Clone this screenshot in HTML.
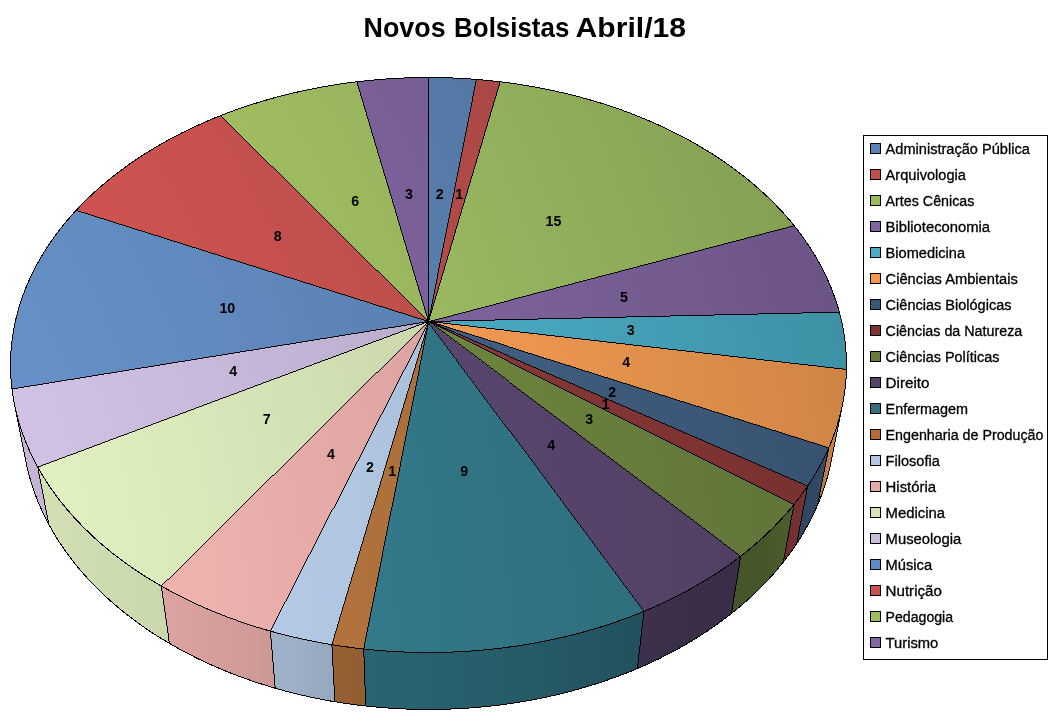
<!DOCTYPE html>
<html lang="pt"><head><meta charset="utf-8"><title>Novos Bolsistas Abril/18</title>
<style>html,body{margin:0;padding:0;background:#fff}body{width:1051px;height:721px;position:relative;overflow:hidden;font-family:"Liberation Sans",sans-serif}</style>
</head><body>
<svg width="1051" height="721" viewBox="0 0 1051 721" style="position:absolute;left:0;top:0">
<defs><radialGradient id="t0" gradientUnits="userSpaceOnUse" cx="-596" cy="644" r="1600"><stop offset="0.375" stop-color="#648EC4"/><stop offset="0.406" stop-color="#638DC2"/><stop offset="0.438" stop-color="#628CC0"/><stop offset="0.469" stop-color="#608ABE"/><stop offset="0.500" stop-color="#5F88BB"/><stop offset="0.531" stop-color="#5E87B9"/><stop offset="0.562" stop-color="#5D85B6"/><stop offset="0.594" stop-color="#5B83B4"/><stop offset="0.625" stop-color="#5A81B1"/><stop offset="0.656" stop-color="#597FAE"/><stop offset="0.688" stop-color="#577DAB"/><stop offset="0.719" stop-color="#567BA9"/><stop offset="0.750" stop-color="#5479A5"/><stop offset="0.781" stop-color="#5376A2"/><stop offset="0.812" stop-color="#51749F"/><stop offset="0.844" stop-color="#4F729C"/><stop offset="0.875" stop-color="#4E6F99"/><stop offset="0.906" stop-color="#4C6D95"/><stop offset="0.938" stop-color="#4A6A92"/><stop offset="0.969" stop-color="#49688F"/><stop offset="1.000" stop-color="#47658B"/></radialGradient><radialGradient id="t1" gradientUnits="userSpaceOnUse" cx="-596" cy="644" r="1600"><stop offset="0.375" stop-color="#CC5653"/><stop offset="0.406" stop-color="#CA5552"/><stop offset="0.438" stop-color="#C85451"/><stop offset="0.469" stop-color="#C55350"/><stop offset="0.500" stop-color="#C3524F"/><stop offset="0.531" stop-color="#C0514E"/><stop offset="0.562" stop-color="#BE504D"/><stop offset="0.594" stop-color="#BB4F4C"/><stop offset="0.625" stop-color="#B84E4B"/><stop offset="0.656" stop-color="#B54D4A"/><stop offset="0.688" stop-color="#B24B48"/><stop offset="0.719" stop-color="#AF4A47"/><stop offset="0.750" stop-color="#AC4946"/><stop offset="0.781" stop-color="#A94745"/><stop offset="0.812" stop-color="#A64643"/><stop offset="0.844" stop-color="#A24542"/><stop offset="0.875" stop-color="#9F4340"/><stop offset="0.906" stop-color="#9B423F"/><stop offset="0.938" stop-color="#98403E"/><stop offset="0.969" stop-color="#943F3C"/><stop offset="1.000" stop-color="#913D3B"/></radialGradient><radialGradient id="t2" gradientUnits="userSpaceOnUse" cx="-596" cy="644" r="1600"><stop offset="0.375" stop-color="#ADD16D"/><stop offset="0.406" stop-color="#ABCF6C"/><stop offset="0.438" stop-color="#AACD6A"/><stop offset="0.469" stop-color="#A8CB69"/><stop offset="0.500" stop-color="#A6C868"/><stop offset="0.531" stop-color="#A4C667"/><stop offset="0.562" stop-color="#A1C365"/><stop offset="0.594" stop-color="#9FC064"/><stop offset="0.625" stop-color="#9DBD62"/><stop offset="0.656" stop-color="#9ABA61"/><stop offset="0.688" stop-color="#98B75F"/><stop offset="0.719" stop-color="#95B45E"/><stop offset="0.750" stop-color="#92B15C"/><stop offset="0.781" stop-color="#90AE5A"/><stop offset="0.812" stop-color="#8DAA58"/><stop offset="0.844" stop-color="#8AA757"/><stop offset="0.875" stop-color="#87A355"/><stop offset="0.906" stop-color="#84A053"/><stop offset="0.938" stop-color="#819C51"/><stop offset="0.969" stop-color="#7E984F"/><stop offset="1.000" stop-color="#7B954D"/></radialGradient><radialGradient id="t3" gradientUnits="userSpaceOnUse" cx="-596" cy="644" r="1600"><stop offset="0.375" stop-color="#8E70B2"/><stop offset="0.406" stop-color="#8D6FB0"/><stop offset="0.438" stop-color="#8C6EAE"/><stop offset="0.469" stop-color="#8A6CAC"/><stop offset="0.500" stop-color="#886BAA"/><stop offset="0.531" stop-color="#876AA8"/><stop offset="0.562" stop-color="#8568A6"/><stop offset="0.594" stop-color="#8367A3"/><stop offset="0.625" stop-color="#8165A1"/><stop offset="0.656" stop-color="#7F649E"/><stop offset="0.688" stop-color="#7D629C"/><stop offset="0.719" stop-color="#7B6099"/><stop offset="0.750" stop-color="#795F96"/><stop offset="0.781" stop-color="#765D93"/><stop offset="0.812" stop-color="#745B90"/><stop offset="0.844" stop-color="#72598E"/><stop offset="0.875" stop-color="#6F578B"/><stop offset="0.906" stop-color="#6D5588"/><stop offset="0.938" stop-color="#6A5484"/><stop offset="0.969" stop-color="#685281"/><stop offset="1.000" stop-color="#65507E"/></radialGradient><radialGradient id="t4" gradientUnits="userSpaceOnUse" cx="-596" cy="644" r="1600"><stop offset="0.375" stop-color="#53C0DB"/><stop offset="0.406" stop-color="#52BED9"/><stop offset="0.438" stop-color="#51BCD7"/><stop offset="0.469" stop-color="#50BAD5"/><stop offset="0.500" stop-color="#4FB8D2"/><stop offset="0.531" stop-color="#4EB6CF"/><stop offset="0.562" stop-color="#4DB3CD"/><stop offset="0.594" stop-color="#4CB1CA"/><stop offset="0.625" stop-color="#4BAEC7"/><stop offset="0.656" stop-color="#4AABC4"/><stop offset="0.688" stop-color="#48A9C0"/><stop offset="0.719" stop-color="#47A6BD"/><stop offset="0.750" stop-color="#46A3BA"/><stop offset="0.781" stop-color="#45A0B6"/><stop offset="0.812" stop-color="#439CB3"/><stop offset="0.844" stop-color="#4299AF"/><stop offset="0.875" stop-color="#4096AB"/><stop offset="0.906" stop-color="#3F93A7"/><stop offset="0.938" stop-color="#3E8FA4"/><stop offset="0.969" stop-color="#3C8CA0"/><stop offset="1.000" stop-color="#3B899C"/></radialGradient><radialGradient id="t5" gradientUnits="userSpaceOnUse" cx="-596" cy="644" r="1600"><stop offset="0.375" stop-color="#FFAE5D"/><stop offset="0.406" stop-color="#FFAC5C"/><stop offset="0.438" stop-color="#FFAB5B"/><stop offset="0.469" stop-color="#FFA95A"/><stop offset="0.500" stop-color="#FFA759"/><stop offset="0.531" stop-color="#FFA558"/><stop offset="0.562" stop-color="#FEA256"/><stop offset="0.594" stop-color="#FBA055"/><stop offset="0.625" stop-color="#F79E54"/><stop offset="0.656" stop-color="#F39B53"/><stop offset="0.688" stop-color="#EF9951"/><stop offset="0.719" stop-color="#EB9650"/><stop offset="0.750" stop-color="#E7934E"/><stop offset="0.781" stop-color="#E2914D"/><stop offset="0.812" stop-color="#DE8E4B"/><stop offset="0.844" stop-color="#D98B4A"/><stop offset="0.875" stop-color="#D58848"/><stop offset="0.906" stop-color="#D08547"/><stop offset="0.938" stop-color="#CB8245"/><stop offset="0.969" stop-color="#C77F44"/><stop offset="1.000" stop-color="#C27C42"/></radialGradient><linearGradient id="w5" gradientUnits="userSpaceOnUse" x1="817.5" y1="0" x2="842.6" y2="0"><stop offset="0.00" stop-color="#BA773F"/><stop offset="0.50" stop-color="#C67E43"/><stop offset="1.00" stop-color="#CF8447"/></linearGradient><radialGradient id="t6" gradientUnits="userSpaceOnUse" cx="-596" cy="644" r="1600"><stop offset="0.375" stop-color="#4A6B93"/><stop offset="0.406" stop-color="#496A92"/><stop offset="0.438" stop-color="#486990"/><stop offset="0.469" stop-color="#47688E"/><stop offset="0.500" stop-color="#46678D"/><stop offset="0.531" stop-color="#45668B"/><stop offset="0.562" stop-color="#456489"/><stop offset="0.594" stop-color="#446387"/><stop offset="0.625" stop-color="#436185"/><stop offset="0.656" stop-color="#426083"/><stop offset="0.688" stop-color="#405E81"/><stop offset="0.719" stop-color="#3F5D7F"/><stop offset="0.750" stop-color="#3E5B7C"/><stop offset="0.781" stop-color="#3D597A"/><stop offset="0.812" stop-color="#3C5778"/><stop offset="0.844" stop-color="#3B5675"/><stop offset="0.875" stop-color="#395473"/><stop offset="0.906" stop-color="#385270"/><stop offset="0.938" stop-color="#37506E"/><stop offset="0.969" stop-color="#364E6B"/><stop offset="1.000" stop-color="#344C69"/></radialGradient><linearGradient id="w6" gradientUnits="userSpaceOnUse" x1="796.7" y1="0" x2="828.8" y2="0"><stop offset="0.00" stop-color="#2F455E"/><stop offset="0.50" stop-color="#314862"/><stop offset="1.00" stop-color="#354D6A"/></linearGradient><radialGradient id="t7" gradientUnits="userSpaceOnUse" cx="-596" cy="644" r="1600"><stop offset="0.375" stop-color="#9A403E"/><stop offset="0.406" stop-color="#98403E"/><stop offset="0.438" stop-color="#973F3D"/><stop offset="0.469" stop-color="#953E3C"/><stop offset="0.500" stop-color="#933E3C"/><stop offset="0.531" stop-color="#913D3B"/><stop offset="0.562" stop-color="#8F3C3A"/><stop offset="0.594" stop-color="#8D3B39"/><stop offset="0.625" stop-color="#8B3A38"/><stop offset="0.656" stop-color="#893937"/><stop offset="0.688" stop-color="#873937"/><stop offset="0.719" stop-color="#843836"/><stop offset="0.750" stop-color="#823735"/><stop offset="0.781" stop-color="#803534"/><stop offset="0.812" stop-color="#7D3433"/><stop offset="0.844" stop-color="#7B3332"/><stop offset="0.875" stop-color="#783231"/><stop offset="0.906" stop-color="#75312F"/><stop offset="0.938" stop-color="#73302E"/><stop offset="0.969" stop-color="#702F2D"/><stop offset="1.000" stop-color="#6D2E2C"/></radialGradient><linearGradient id="w7" gradientUnits="userSpaceOnUse" x1="783.3" y1="0" x2="807.6" y2="0"><stop offset="0.00" stop-color="#6D2E2C"/><stop offset="0.50" stop-color="#74302F"/><stop offset="1.00" stop-color="#783230"/></linearGradient><radialGradient id="t8" gradientUnits="userSpaceOnUse" cx="-596" cy="644" r="1600"><stop offset="0.375" stop-color="#7B9548"/><stop offset="0.406" stop-color="#7A9448"/><stop offset="0.438" stop-color="#799247"/><stop offset="0.469" stop-color="#779146"/><stop offset="0.500" stop-color="#768F45"/><stop offset="0.531" stop-color="#758D44"/><stop offset="0.562" stop-color="#738B44"/><stop offset="0.594" stop-color="#718943"/><stop offset="0.625" stop-color="#708742"/><stop offset="0.656" stop-color="#6E8541"/><stop offset="0.688" stop-color="#6C833F"/><stop offset="0.719" stop-color="#6A813E"/><stop offset="0.750" stop-color="#687E3D"/><stop offset="0.781" stop-color="#667C3C"/><stop offset="0.812" stop-color="#64793B"/><stop offset="0.844" stop-color="#62773A"/><stop offset="0.875" stop-color="#607438"/><stop offset="0.906" stop-color="#5E7237"/><stop offset="0.938" stop-color="#5C6F36"/><stop offset="0.969" stop-color="#5A6D35"/><stop offset="1.000" stop-color="#586A33"/></radialGradient><linearGradient id="w8" gradientUnits="userSpaceOnUse" x1="731.4" y1="0" x2="793.9" y2="0"><stop offset="0.00" stop-color="#465529"/><stop offset="0.50" stop-color="#475629"/><stop offset="1.00" stop-color="#4E5F2E"/></linearGradient><radialGradient id="t9" gradientUnits="userSpaceOnUse" cx="-596" cy="644" r="1600"><stop offset="0.375" stop-color="#654F7C"/><stop offset="0.406" stop-color="#644E7B"/><stop offset="0.438" stop-color="#634E7A"/><stop offset="0.469" stop-color="#624D79"/><stop offset="0.500" stop-color="#604C77"/><stop offset="0.531" stop-color="#5F4B76"/><stop offset="0.562" stop-color="#5E4A74"/><stop offset="0.594" stop-color="#5D4972"/><stop offset="0.625" stop-color="#5B4871"/><stop offset="0.656" stop-color="#5A476F"/><stop offset="0.688" stop-color="#58456D"/><stop offset="0.719" stop-color="#57446B"/><stop offset="0.750" stop-color="#554369"/><stop offset="0.781" stop-color="#544267"/><stop offset="0.812" stop-color="#524065"/><stop offset="0.844" stop-color="#503F63"/><stop offset="0.875" stop-color="#4F3E61"/><stop offset="0.906" stop-color="#4D3C5F"/><stop offset="0.938" stop-color="#4B3B5D"/><stop offset="0.969" stop-color="#493A5B"/><stop offset="1.000" stop-color="#483858"/></radialGradient><linearGradient id="w9" gradientUnits="userSpaceOnUse" x1="637.4" y1="0" x2="740.7" y2="0"><stop offset="0.00" stop-color="#3E314D"/><stop offset="0.50" stop-color="#3A2E48"/><stop offset="1.00" stop-color="#392D47"/></linearGradient><radialGradient id="t10" gradientUnits="userSpaceOnUse" cx="-596" cy="644" r="1600"><stop offset="0.375" stop-color="#378496"/><stop offset="0.406" stop-color="#378395"/><stop offset="0.438" stop-color="#368293"/><stop offset="0.469" stop-color="#368092"/><stop offset="0.500" stop-color="#357F90"/><stop offset="0.531" stop-color="#347D8E"/><stop offset="0.562" stop-color="#347B8C"/><stop offset="0.594" stop-color="#337A8A"/><stop offset="0.625" stop-color="#327888"/><stop offset="0.656" stop-color="#317686"/><stop offset="0.688" stop-color="#317484"/><stop offset="0.719" stop-color="#307282"/><stop offset="0.750" stop-color="#2F707F"/><stop offset="0.781" stop-color="#2E6E7D"/><stop offset="0.812" stop-color="#2D6C7A"/><stop offset="0.844" stop-color="#2C6978"/><stop offset="0.875" stop-color="#2B6775"/><stop offset="0.906" stop-color="#2A6573"/><stop offset="0.938" stop-color="#296370"/><stop offset="0.969" stop-color="#28606E"/><stop offset="1.000" stop-color="#275E6B"/></radialGradient><linearGradient id="w10" gradientUnits="userSpaceOnUse" x1="363.7" y1="0" x2="643.9" y2="0"><stop offset="0.00" stop-color="#2A6472"/><stop offset="0.50" stop-color="#275C69"/><stop offset="1.00" stop-color="#22515D"/></linearGradient><radialGradient id="t11" gradientUnits="userSpaceOnUse" cx="-596" cy="644" r="1600"><stop offset="0.375" stop-color="#C07C43"/><stop offset="0.406" stop-color="#BE7B42"/><stop offset="0.438" stop-color="#BC7A41"/><stop offset="0.469" stop-color="#BA7941"/><stop offset="0.500" stop-color="#B87740"/><stop offset="0.531" stop-color="#B6763F"/><stop offset="0.562" stop-color="#B3743E"/><stop offset="0.594" stop-color="#B1723D"/><stop offset="0.625" stop-color="#AE713C"/><stop offset="0.656" stop-color="#AB6F3B"/><stop offset="0.688" stop-color="#A96D3A"/><stop offset="0.719" stop-color="#A66B39"/><stop offset="0.750" stop-color="#A36938"/><stop offset="0.781" stop-color="#A06737"/><stop offset="0.812" stop-color="#9C6536"/><stop offset="0.844" stop-color="#996335"/><stop offset="0.875" stop-color="#966134"/><stop offset="0.906" stop-color="#935F33"/><stop offset="0.938" stop-color="#8F5D32"/><stop offset="0.969" stop-color="#8C5B31"/><stop offset="1.000" stop-color="#89582F"/></radialGradient><linearGradient id="w11" gradientUnits="userSpaceOnUse" x1="331.9" y1="0" x2="365.7" y2="0"><stop offset="0.00" stop-color="#966134"/><stop offset="0.50" stop-color="#935F33"/><stop offset="1.00" stop-color="#925E33"/></linearGradient><radialGradient id="t12" gradientUnits="userSpaceOnUse" cx="-596" cy="644" r="1600"><stop offset="0.375" stop-color="#C0D7F4"/><stop offset="0.406" stop-color="#BED5F2"/><stop offset="0.438" stop-color="#BCD3EF"/><stop offset="0.469" stop-color="#BAD0ED"/><stop offset="0.500" stop-color="#B8CEEA"/><stop offset="0.531" stop-color="#B6CBE7"/><stop offset="0.562" stop-color="#B3C8E4"/><stop offset="0.594" stop-color="#B1C6E1"/><stop offset="0.625" stop-color="#AEC3DD"/><stop offset="0.656" stop-color="#ABC0DA"/><stop offset="0.688" stop-color="#A9BCD6"/><stop offset="0.719" stop-color="#A6B9D2"/><stop offset="0.750" stop-color="#A3B6CF"/><stop offset="0.781" stop-color="#A0B2CB"/><stop offset="0.812" stop-color="#9CAFC7"/><stop offset="0.844" stop-color="#99ABC3"/><stop offset="0.875" stop-color="#96A8BF"/><stop offset="0.906" stop-color="#93A4BA"/><stop offset="0.938" stop-color="#8FA0B6"/><stop offset="0.969" stop-color="#8C9DB2"/><stop offset="1.000" stop-color="#8999AE"/></radialGradient><linearGradient id="w12" gradientUnits="userSpaceOnUse" x1="270.4" y1="0" x2="334.9" y2="0"><stop offset="0.00" stop-color="#9FB2CA"/><stop offset="0.50" stop-color="#9CAEC6"/><stop offset="1.00" stop-color="#96A8BE"/></linearGradient><radialGradient id="t13" gradientUnits="userSpaceOnUse" cx="-596" cy="644" r="1600"><stop offset="0.375" stop-color="#F8B8B6"/><stop offset="0.406" stop-color="#F5B7B4"/><stop offset="0.438" stop-color="#F3B5B2"/><stop offset="0.469" stop-color="#F0B3B0"/><stop offset="0.500" stop-color="#EDB1AE"/><stop offset="0.531" stop-color="#EAAEAC"/><stop offset="0.562" stop-color="#E7ACAA"/><stop offset="0.594" stop-color="#E4A9A7"/><stop offset="0.625" stop-color="#E0A7A5"/><stop offset="0.656" stop-color="#DDA4A2"/><stop offset="0.688" stop-color="#D9A2A0"/><stop offset="0.719" stop-color="#D59F9D"/><stop offset="0.750" stop-color="#D19C9A"/><stop offset="0.781" stop-color="#CE9997"/><stop offset="0.812" stop-color="#CA9694"/><stop offset="0.844" stop-color="#C59391"/><stop offset="0.875" stop-color="#C1908E"/><stop offset="0.906" stop-color="#BD8D8B"/><stop offset="0.938" stop-color="#B98A88"/><stop offset="0.969" stop-color="#B48685"/><stop offset="1.000" stop-color="#B08381"/></radialGradient><linearGradient id="w13" gradientUnits="userSpaceOnUse" x1="161.3" y1="0" x2="275.2" y2="0"><stop offset="0.00" stop-color="#DCA3A1"/><stop offset="0.50" stop-color="#D49E9C"/><stop offset="1.00" stop-color="#CC9896"/></linearGradient><radialGradient id="t14" gradientUnits="userSpaceOnUse" cx="-596" cy="644" r="1600"><stop offset="0.375" stop-color="#E3F3C3"/><stop offset="0.406" stop-color="#E1F1C1"/><stop offset="0.438" stop-color="#DFEEBF"/><stop offset="0.469" stop-color="#DCECBD"/><stop offset="0.500" stop-color="#DAE9BA"/><stop offset="0.531" stop-color="#D7E6B8"/><stop offset="0.562" stop-color="#D4E3B5"/><stop offset="0.594" stop-color="#D1E0B3"/><stop offset="0.625" stop-color="#CEDCB0"/><stop offset="0.656" stop-color="#CBD9AD"/><stop offset="0.688" stop-color="#C7D5AB"/><stop offset="0.719" stop-color="#C4D1A8"/><stop offset="0.750" stop-color="#C0CEA5"/><stop offset="0.781" stop-color="#BDCAA1"/><stop offset="0.812" stop-color="#B9C69E"/><stop offset="0.844" stop-color="#B5C29B"/><stop offset="0.875" stop-color="#B1BE98"/><stop offset="0.906" stop-color="#AEBA94"/><stop offset="0.938" stop-color="#AAB591"/><stop offset="0.969" stop-color="#A6B18E"/><stop offset="1.000" stop-color="#A2AD8A"/></radialGradient><linearGradient id="w14" gradientUnits="userSpaceOnUse" x1="37.7" y1="0" x2="169.4" y2="0"><stop offset="0.00" stop-color="#D2E0B4"/><stop offset="0.50" stop-color="#CDDCB0"/><stop offset="1.00" stop-color="#C9D7AC"/></linearGradient><radialGradient id="t15" gradientUnits="userSpaceOnUse" cx="-596" cy="644" r="1600"><stop offset="0.375" stop-color="#D3C4E7"/><stop offset="0.406" stop-color="#D1C2E4"/><stop offset="0.438" stop-color="#CFC0E2"/><stop offset="0.469" stop-color="#CDBEE0"/><stop offset="0.500" stop-color="#CABBDD"/><stop offset="0.531" stop-color="#C8B9DA"/><stop offset="0.562" stop-color="#C5B6D7"/><stop offset="0.594" stop-color="#C2B4D4"/><stop offset="0.625" stop-color="#C0B1D1"/><stop offset="0.656" stop-color="#BCAECE"/><stop offset="0.688" stop-color="#B9ABCA"/><stop offset="0.719" stop-color="#B6A9C7"/><stop offset="0.750" stop-color="#B3A5C3"/><stop offset="0.781" stop-color="#B0A2BF"/><stop offset="0.812" stop-color="#AC9FBC"/><stop offset="0.844" stop-color="#A99CB8"/><stop offset="0.875" stop-color="#A599B4"/><stop offset="0.906" stop-color="#A195B0"/><stop offset="0.938" stop-color="#9E92AC"/><stop offset="0.969" stop-color="#9A8FA8"/><stop offset="1.000" stop-color="#968BA4"/></radialGradient><linearGradient id="w15" gradientUnits="userSpaceOnUse" x1="14.4" y1="0" x2="48.9" y2="0"><stop offset="0.00" stop-color="#C4B6D6"/><stop offset="0.50" stop-color="#C4B5D5"/><stop offset="1.00" stop-color="#C3B4D4"/></linearGradient><radialGradient id="t16" gradientUnits="userSpaceOnUse" cx="-596" cy="644" r="1600"><stop offset="0.375" stop-color="#6792C9"/><stop offset="0.406" stop-color="#6690C7"/><stop offset="0.438" stop-color="#658FC5"/><stop offset="0.469" stop-color="#648DC3"/><stop offset="0.500" stop-color="#638CC1"/><stop offset="0.531" stop-color="#618ABE"/><stop offset="0.562" stop-color="#6088BC"/><stop offset="0.594" stop-color="#5F86B9"/><stop offset="0.625" stop-color="#5D84B6"/><stop offset="0.656" stop-color="#5C82B3"/><stop offset="0.688" stop-color="#5A80B0"/><stop offset="0.719" stop-color="#597EAD"/><stop offset="0.750" stop-color="#577BAA"/><stop offset="0.781" stop-color="#5579A7"/><stop offset="0.812" stop-color="#5477A4"/><stop offset="0.844" stop-color="#5274A0"/><stop offset="0.875" stop-color="#50729D"/><stop offset="0.906" stop-color="#4F6F9A"/><stop offset="0.938" stop-color="#4D6D96"/><stop offset="0.969" stop-color="#4B6A93"/><stop offset="1.000" stop-color="#49688F"/></radialGradient><radialGradient id="t17" gradientUnits="userSpaceOnUse" cx="-596" cy="644" r="1600"><stop offset="0.375" stop-color="#D75855"/><stop offset="0.406" stop-color="#D55754"/><stop offset="0.438" stop-color="#D35653"/><stop offset="0.469" stop-color="#D05552"/><stop offset="0.500" stop-color="#CE5451"/><stop offset="0.531" stop-color="#CB5350"/><stop offset="0.562" stop-color="#C8524F"/><stop offset="0.594" stop-color="#C6514E"/><stop offset="0.625" stop-color="#C3504D"/><stop offset="0.656" stop-color="#C04F4C"/><stop offset="0.688" stop-color="#BC4D4A"/><stop offset="0.719" stop-color="#B94C49"/><stop offset="0.750" stop-color="#B64B48"/><stop offset="0.781" stop-color="#B24946"/><stop offset="0.812" stop-color="#AF4845"/><stop offset="0.844" stop-color="#AB4644"/><stop offset="0.875" stop-color="#A84542"/><stop offset="0.906" stop-color="#A44341"/><stop offset="0.938" stop-color="#A0423F"/><stop offset="0.969" stop-color="#9D403E"/><stop offset="1.000" stop-color="#993F3C"/></radialGradient><radialGradient id="t18" gradientUnits="userSpaceOnUse" cx="-596" cy="644" r="1600"><stop offset="0.375" stop-color="#AECF6A"/><stop offset="0.406" stop-color="#ACCD69"/><stop offset="0.438" stop-color="#ABCB68"/><stop offset="0.469" stop-color="#A9C967"/><stop offset="0.500" stop-color="#A7C666"/><stop offset="0.531" stop-color="#A5C464"/><stop offset="0.562" stop-color="#A2C163"/><stop offset="0.594" stop-color="#A0BE62"/><stop offset="0.625" stop-color="#9EBB60"/><stop offset="0.656" stop-color="#9BB85F"/><stop offset="0.688" stop-color="#99B55D"/><stop offset="0.719" stop-color="#96B25C"/><stop offset="0.750" stop-color="#93AF5A"/><stop offset="0.781" stop-color="#91AC58"/><stop offset="0.812" stop-color="#8EA857"/><stop offset="0.844" stop-color="#8BA555"/><stop offset="0.875" stop-color="#88A153"/><stop offset="0.906" stop-color="#859E51"/><stop offset="0.938" stop-color="#829A4F"/><stop offset="0.969" stop-color="#7F974D"/><stop offset="1.000" stop-color="#7C934C"/></radialGradient><radialGradient id="t19" gradientUnits="userSpaceOnUse" cx="-596" cy="644" r="1600"><stop offset="0.375" stop-color="#8C6DAD"/><stop offset="0.406" stop-color="#8B6CAB"/><stop offset="0.438" stop-color="#896AAA"/><stop offset="0.469" stop-color="#8869A8"/><stop offset="0.500" stop-color="#8668A6"/><stop offset="0.531" stop-color="#8567A4"/><stop offset="0.562" stop-color="#8365A1"/><stop offset="0.594" stop-color="#81649F"/><stop offset="0.625" stop-color="#7F629D"/><stop offset="0.656" stop-color="#7D619A"/><stop offset="0.688" stop-color="#7B5F98"/><stop offset="0.719" stop-color="#795E95"/><stop offset="0.750" stop-color="#775C92"/><stop offset="0.781" stop-color="#745A90"/><stop offset="0.812" stop-color="#72588D"/><stop offset="0.844" stop-color="#70578A"/><stop offset="0.875" stop-color="#6D5587"/><stop offset="0.906" stop-color="#6B5384"/><stop offset="0.938" stop-color="#695181"/><stop offset="0.969" stop-color="#664F7E"/><stop offset="1.000" stop-color="#644D7B"/></radialGradient></defs>
<g stroke="none" shape-rendering="crispEdges">
<path d="M842.63,404.06 L840.68,412.84 L838.32,421.61 L835.56,430.36 L832.38,439.10 L828.80,447.79 L817.46,505.41 L820.99,496.71 L824.12,487.97 L826.86,479.21 L829.20,470.43 L831.15,461.65Z" fill="url(#w5)"/>
<path d="M828.80,447.79 L824.29,457.48 L819.26,467.09 L813.71,476.62 L807.64,486.06 L796.70,543.64 L802.65,534.22 L808.09,524.70 L813.02,515.09 L817.46,505.41Z" fill="url(#w6)"/>
<path d="M807.64,486.06 L801.05,495.38 L793.95,504.57 L783.31,562.13 L790.25,552.95 L796.70,543.64Z" fill="url(#w7)"/>
<path d="M793.95,504.57 L786.33,513.62 L778.20,522.51 L769.56,531.22 L760.43,539.75 L750.80,548.08 L740.70,556.18 L731.38,613.62 L741.22,605.54 L750.60,597.23 L759.50,588.73 L767.93,580.03 L775.86,571.16 L783.31,562.13Z" fill="url(#w8)"/>
<path d="M740.70,556.18 L730.12,564.05 L719.08,571.67 L707.59,579.03 L695.67,586.11 L683.33,592.90 L670.58,599.38 L657.45,605.54 L643.95,611.37 L637.36,668.59 L650.46,662.79 L663.22,656.65 L675.60,650.20 L687.59,643.44 L699.18,636.39 L710.35,629.06 L721.09,621.46 L731.38,613.62Z" fill="url(#w9)"/>
<path d="M643.95,611.37 L630.10,616.86 L615.91,621.99 L601.42,626.75 L586.64,631.14 L571.60,635.13 L556.32,638.73 L540.82,641.93 L525.13,644.72 L509.28,647.08 L493.29,649.03 L477.19,650.55 L461.01,651.63 L444.77,652.29 L428.50,652.50 L412.23,652.29 L395.99,651.63 L379.81,650.55 L363.71,649.03 L365.73,706.05 L381.33,707.55 L397.01,708.63 L412.74,709.28 L428.50,709.50 L444.26,709.28 L459.99,708.63 L475.67,707.55 L491.27,706.05 L506.77,704.11 L522.13,701.76 L537.33,698.99 L552.36,695.81 L567.17,692.23 L581.76,688.25 L596.09,683.89 L610.15,679.15 L623.91,674.05 L637.36,668.59Z" fill="url(#w10)"/>
<path d="M363.71,649.03 L347.72,647.08 L331.87,644.72 L334.87,701.76 L350.23,704.11 L365.73,706.05Z" fill="url(#w11)"/>
<path d="M331.87,644.72 L316.18,641.93 L300.68,638.73 L285.40,635.13 L270.36,631.14 L275.24,688.25 L289.83,692.23 L304.64,695.81 L319.67,698.99 L334.87,701.76Z" fill="url(#w12)"/>
<path d="M270.36,631.14 L255.58,626.75 L241.09,621.99 L226.90,616.86 L213.05,611.37 L199.55,605.54 L186.42,599.38 L173.67,592.90 L161.33,586.11 L169.41,643.44 L181.40,650.20 L193.78,656.65 L206.54,662.79 L219.64,668.59 L233.09,674.05 L246.85,679.15 L260.91,683.89 L275.24,688.25Z" fill="url(#w13)"/>
<path d="M161.33,586.11 L149.41,579.03 L137.92,571.67 L126.88,564.05 L116.30,556.18 L106.20,548.08 L96.57,539.75 L87.44,531.22 L78.80,522.51 L70.67,513.62 L63.05,504.57 L55.95,495.38 L49.36,486.06 L43.29,476.62 L37.74,467.09 L48.91,524.70 L54.35,534.22 L60.30,543.64 L66.75,552.95 L73.69,562.13 L81.14,571.16 L89.07,580.03 L97.50,588.73 L106.40,597.23 L115.78,605.54 L125.62,613.62 L135.91,621.46 L146.65,629.06 L157.82,636.39 L169.41,643.44Z" fill="url(#w14)"/>
<path d="M37.74,467.09 L33.08,458.21 L28.86,449.27 L25.08,440.29 L21.75,431.26 L18.86,422.21 L16.40,413.14 L14.37,404.06 L25.85,461.65 L27.87,470.73 L30.31,479.81 L33.18,488.87 L36.47,497.90 L40.19,506.89 L44.34,515.82 L48.91,524.70Z" fill="url(#w15)"/>
<path d="M428.50,321.50 L428.50,77.50 L440.49,77.62 L452.48,77.97 L464.45,78.56 L476.39,79.39Z" fill="url(#t0)"/>
<path d="M428.50,321.50 L476.39,79.39 L488.30,80.46 L500.17,81.76Z" fill="url(#t1)"/>
<path d="M428.50,321.50 L500.17,81.76 L512.40,83.35 L524.57,85.20 L536.67,87.29 L548.68,89.64 L560.61,92.24 L572.44,95.08 L584.16,98.18 L595.76,101.52 L607.24,105.11 L618.58,108.94 L629.77,113.02 L640.80,117.34 L651.67,121.90 L662.36,126.71 L672.86,131.74 L683.17,137.02 L693.26,142.53 L703.14,148.26 L712.79,154.23 L722.20,160.42 L731.35,166.84 L740.24,173.48 L748.86,180.33 L757.20,187.39 L765.24,194.66 L772.97,202.14 L780.38,209.81 L787.46,217.68 L794.19,225.74Z" fill="url(#t2)"/>
<path d="M428.50,321.50 L794.19,225.74 L800.37,233.71 L806.21,241.84 L811.69,250.14 L816.81,258.58 L821.56,267.18 L825.93,275.92 L829.91,284.80 L833.48,293.80 L836.64,302.92 L839.38,312.16Z" fill="url(#t3)"/>
<path d="M428.50,321.50 L839.38,312.16 L841.69,321.50 L843.56,330.93 L844.98,340.45 L845.94,350.05 L846.43,359.71 L846.45,369.43Z" fill="url(#t4)"/>
<path d="M428.50,321.50 L846.45,369.43 L845.99,379.19 L845.05,388.99 L843.60,398.81 L841.66,408.64 L839.21,418.46 L836.26,428.27 L832.78,438.05 L828.80,447.79Z" fill="url(#t5)"/>
<path d="M428.50,321.50 L828.80,447.79 L824.29,457.48 L819.26,467.09 L813.71,476.62 L807.64,486.06Z" fill="url(#t6)"/>
<path d="M428.50,321.50 L807.64,486.06 L801.05,495.38 L793.95,504.57Z" fill="url(#t7)"/>
<path d="M428.50,321.50 L793.95,504.57 L786.33,513.62 L778.20,522.51 L769.56,531.22 L760.43,539.75 L750.80,548.08 L740.70,556.18Z" fill="url(#t8)"/>
<path d="M428.50,321.50 L740.70,556.18 L730.12,564.05 L719.08,571.67 L707.59,579.03 L695.67,586.11 L683.33,592.90 L670.58,599.38 L657.45,605.54 L643.95,611.37Z" fill="url(#t9)"/>
<path d="M428.50,321.50 L643.95,611.37 L630.10,616.86 L615.91,621.99 L601.42,626.75 L586.64,631.14 L571.60,635.13 L556.32,638.73 L540.82,641.93 L525.13,644.72 L509.28,647.08 L493.29,649.03 L477.19,650.55 L461.01,651.63 L444.77,652.29 L428.50,652.50 L412.23,652.29 L395.99,651.63 L379.81,650.55 L363.71,649.03Z" fill="url(#t10)"/>
<path d="M428.50,321.50 L363.71,649.03 L347.72,647.08 L331.87,644.72Z" fill="url(#t11)"/>
<path d="M428.50,321.50 L331.87,644.72 L316.18,641.93 L300.68,638.73 L285.40,635.13 L270.36,631.14Z" fill="url(#t12)"/>
<path d="M428.50,321.50 L270.36,631.14 L255.58,626.75 L241.09,621.99 L226.90,616.86 L213.05,611.37 L199.55,605.54 L186.42,599.38 L173.67,592.90 L161.33,586.11Z" fill="url(#t13)"/>
<path d="M428.50,321.50 L161.33,586.11 L149.41,579.03 L137.92,571.67 L126.88,564.05 L116.30,556.18 L106.20,548.08 L96.57,539.75 L87.44,531.22 L78.80,522.51 L70.67,513.62 L63.05,504.57 L55.95,495.38 L49.36,486.06 L43.29,476.62 L37.74,467.09Z" fill="url(#t14)"/>
<path d="M428.50,321.50 L37.74,467.09 L32.71,457.48 L28.20,447.79 L24.22,438.05 L20.74,428.27 L17.79,418.46 L15.34,408.64 L13.40,398.81 L11.95,388.99Z" fill="url(#t15)"/>
<path d="M428.50,321.50 L11.95,388.99 L11.01,379.19 L10.55,369.43 L10.57,359.71 L11.06,350.05 L12.02,340.45 L13.44,330.93 L15.31,321.50 L17.62,312.16 L20.36,302.92 L23.52,293.80 L27.09,284.80 L31.07,275.92 L35.44,267.18 L40.19,258.58 L45.31,250.14 L50.79,241.84 L56.63,233.71 L62.81,225.74 L69.31,217.95 L76.14,210.33Z" fill="url(#t16)"/>
<path d="M428.50,321.50 L76.14,210.33 L83.28,202.90 L90.72,195.65 L98.44,188.59 L106.45,181.72 L114.72,175.05 L123.25,168.59 L132.03,162.33 L141.05,156.27 L150.29,150.43 L159.76,144.79 L169.43,139.38 L179.30,134.18 L189.36,129.20 L199.61,124.44 L210.02,119.90 L220.59,115.59Z" fill="url(#t17)"/>
<path d="M428.50,321.50 L220.59,115.59 L231.32,111.50 L242.19,107.64 L253.19,104.01 L264.32,100.60 L275.56,97.43 L286.92,94.49 L298.37,91.79 L309.91,89.31 L321.54,87.07 L333.24,85.07 L345.00,83.29 L356.83,81.76Z" fill="url(#t18)"/>
<path d="M428.50,321.50 L356.83,81.76 L368.70,80.46 L380.61,79.39 L392.55,78.56 L404.52,77.97 L416.51,77.62 L428.50,77.50Z" fill="url(#t19)"/>
</g>
<g stroke="#000" stroke-width="0.97" stroke-linecap="butt" fill="none" shape-rendering="crispEdges">
<path d="M428.50,321.50 L428.50,77.50"/>
<path d="M428.50,321.50 L476.39,79.39"/>
<path d="M428.50,321.50 L500.17,81.76"/>
<path d="M428.50,321.50 L794.19,225.74"/>
<path d="M428.50,321.50 L839.38,312.16"/>
<path d="M428.50,321.50 L846.45,369.43"/>
<path d="M428.50,321.50 L828.80,447.79"/>
<path d="M828.80,447.79 L817.46,505.41"/>
<path d="M428.50,321.50 L807.64,486.06"/>
<path d="M807.64,486.06 L796.70,543.64"/>
<path d="M428.50,321.50 L793.95,504.57"/>
<path d="M793.95,504.57 L783.31,562.13"/>
<path d="M428.50,321.50 L740.70,556.18"/>
<path d="M740.70,556.18 L731.38,613.62"/>
<path d="M428.50,321.50 L643.95,611.37"/>
<path d="M643.95,611.37 L637.36,668.59"/>
<path d="M428.50,321.50 L363.71,649.03"/>
<path d="M363.71,649.03 L365.73,706.05"/>
<path d="M428.50,321.50 L331.87,644.72"/>
<path d="M331.87,644.72 L334.87,701.76"/>
<path d="M428.50,321.50 L270.36,631.14"/>
<path d="M270.36,631.14 L275.24,688.25"/>
<path d="M428.50,321.50 L161.33,586.11"/>
<path d="M161.33,586.11 L169.41,643.44"/>
<path d="M428.50,321.50 L37.74,467.09"/>
<path d="M37.74,467.09 L48.91,524.70"/>
<path d="M428.50,321.50 L11.95,388.99"/>
<path d="M428.50,321.50 L76.14,210.33"/>
<path d="M428.50,321.50 L220.59,115.59"/>
<path d="M428.50,321.50 L356.83,81.76"/>
<path d="M842.63,404.06 L831.15,461.65"/>
<path d="M14.37,404.06 L25.85,461.65"/>
<path d="M428.50,77.50 L440.96,77.63 L453.40,78.01 L465.83,78.65 L478.24,79.54 L490.60,80.69 L502.92,82.09 L515.19,83.75 L527.39,85.66 L539.52,87.82 L551.56,90.24 L563.51,92.91 L575.36,95.83 L587.10,99.00 L598.72,102.42 L610.21,106.09 L621.55,110.00 L632.75,114.16 L643.79,118.56 L654.65,123.21 L665.33,128.10 L675.82,133.22 L686.11,138.59 L696.18,144.18 L706.03,150.01 L715.65,156.07 L725.02,162.36 L734.13,168.87 L742.98,175.60 L751.54,182.55 L759.82,189.71 L767.79,197.07 L775.44,204.65 L782.78,212.42 L789.77,220.38 L796.42,228.54 L802.70,236.88 L808.61,245.40 L814.14,254.08 L819.28,262.94 L824.00,271.95 L828.31,281.10 L832.19,290.40 L835.62,299.84 L838.61,309.39 L841.13,319.07 L843.18,328.84 L844.75,338.71 L845.83,348.67 L846.40,358.70 L846.47,368.79 L846.01,378.92 L845.03,389.10 L843.52,399.30 L841.46,409.50 L838.87,419.71 L835.72,429.89 L832.01,440.05 L827.75,450.15 L822.93,460.19 L817.54,470.16 L811.59,480.02 L805.08,489.78 L798.02,499.40 L790.39,508.89 L782.21,518.20 L773.49,527.34 L764.22,536.29 L754.42,545.02 L744.10,553.52 L733.26,561.77 L721.93,569.76 L710.11,577.47 L697.81,584.88 L685.06,591.98 L671.87,598.75 L658.26,605.18 L644.25,611.25 L629.86,616.95 L615.12,622.26 L600.04,627.18 L584.66,631.69 L569.00,635.78 L553.08,639.44 L536.93,642.66 L520.59,645.44 L504.08,647.77 L487.43,649.63 L470.67,651.04 L453.83,651.98 L436.95,652.45 L420.05,652.45 L403.17,651.98 L386.33,651.04 L369.57,649.63 L352.92,647.77 L336.41,645.44 L320.07,642.66 L303.92,639.44 L288.00,635.78 L272.34,631.69 L256.96,627.18 L241.88,622.26 L227.14,616.95 L212.75,611.25 L198.74,605.18 L185.13,598.75 L171.94,591.98 L159.19,584.88 L146.89,577.47 L135.07,569.76 L123.74,561.77 L112.90,553.52 L102.58,545.02 L92.78,536.29 L83.51,527.34 L74.79,518.20 L66.61,508.89 L58.98,499.40 L51.92,489.78 L45.41,480.02 L39.46,470.16 L34.07,460.19 L29.25,450.15 L24.99,440.05 L21.28,429.89 L18.13,419.71 L15.54,409.50 L13.48,399.30 L11.97,389.10 L10.99,378.92 L10.53,368.79 L10.60,358.70 L11.17,348.67 L12.25,338.71 L13.82,328.84 L15.87,319.07 L18.39,309.39 L21.38,299.84 L24.81,290.40 L28.69,281.10 L33.00,271.95 L37.72,262.94 L42.86,254.08 L48.39,245.40 L54.30,236.88 L60.58,228.54 L67.23,220.38 L74.22,212.42 L81.56,204.65 L89.21,197.07 L97.18,189.71 L105.46,182.55 L114.02,175.60 L122.87,168.87 L131.98,162.36 L141.35,156.07 L150.97,150.01 L160.82,144.18 L170.89,138.59 L181.18,133.22 L191.67,128.10 L202.35,123.21 L213.21,118.56 L224.25,114.16 L235.45,110.00 L246.79,106.09 L258.28,102.42 L269.90,99.00 L281.64,95.83 L293.49,92.91 L305.44,90.24 L317.48,87.82 L329.61,85.66 L341.81,83.75 L354.08,82.09 L366.40,80.69 L378.76,79.54 L391.17,78.65 L403.60,78.01 L416.04,77.63 L428.50,77.50Z" stroke-width="1"/>
<path d="M831.15,461.65 L828.84,471.87 L826.01,482.09 L822.63,492.27 L818.72,502.42 L814.26,512.50 L809.26,522.51 L803.71,532.43 L797.62,542.25 L790.98,551.94 L783.81,561.49 L776.09,570.89 L767.85,580.12 L759.08,589.15 L749.79,597.98 L739.99,606.59 L729.68,614.95 L718.89,623.06 L707.63,630.89 L695.90,638.44 L683.72,645.68 L671.11,652.60 L658.09,659.18 L644.67,665.41 L630.88,671.28 L616.73,676.77 L602.25,681.87 L587.47,686.57 L572.40,690.85 L557.08,694.72 L541.52,698.15 L525.76,701.14 L509.82,703.68 L493.74,705.77 L477.53,707.40 L461.24,708.57 L444.88,709.27 L428.50,709.50 L412.12,709.27 L395.76,708.57 L379.47,707.40 L363.26,705.77 L347.18,703.68 L331.24,701.14 L315.48,698.15 L299.92,694.72 L284.60,690.85 L269.53,686.57 L254.75,681.87 L240.27,676.77 L226.12,671.28 L212.33,665.41 L198.91,659.18 L185.89,652.60 L173.28,645.68 L161.10,638.44 L149.37,630.89 L138.11,623.06 L127.32,614.95 L117.01,606.59 L107.21,597.98 L97.92,589.15 L89.15,580.12 L80.91,570.89 L73.19,561.49 L66.02,551.94 L59.38,542.25 L53.29,532.43 L47.74,522.51 L42.74,512.50 L38.28,502.42 L34.37,492.27 L30.99,482.09 L28.16,471.87 L25.85,461.65" stroke-width="1"/>
</g>
<g font-family="'Liberation Sans', sans-serif" font-weight="bold" font-size="14.2" text-anchor="middle" fill="#000">
<text x="439.8" y="199.0">2</text>
<text x="459.2" y="199.0">1</text>
<text x="553.5" y="225.9">15</text>
<text x="623.9" y="302.2">5</text>
<text x="630.8" y="334.8">3</text>
<text x="626.1" y="366.9">4</text>
<text x="612.1" y="397.1">2</text>
<text x="605.6" y="408.9">1</text>
<text x="589.1" y="424.1">3</text>
<text x="551.2" y="450.1">4</text>
<text x="464.3" y="476.0">9</text>
<text x="392.3" y="476.3">1</text>
<text x="369.9" y="472.3">2</text>
<text x="330.9" y="459.0">4</text>
<text x="266.7" y="423.9">7</text>
<text x="233.1" y="375.8">4</text>
<text x="227.3" y="313.0">10</text>
<text x="277.8" y="240.8">8</text>
<text x="355.2" y="205.9">6</text>
<text x="408.9" y="199.0">3</text>
</g>
<text y="36.5" font-family="'Liberation Sans', sans-serif" font-weight="bold" font-size="27.8" fill="#000"><tspan x="363.6" textLength="82.0" lengthAdjust="spacingAndGlyphs">Novos</tspan> <tspan x="454.1" textLength="115.2" lengthAdjust="spacingAndGlyphs">Bolsistas</tspan> <tspan x="575.6" textLength="110.4" lengthAdjust="spacingAndGlyphs">Abril/18</tspan></text>
<rect x="863.5" y="135.5" width="184" height="524" fill="#fff" stroke="#000" stroke-width="1" shape-rendering="crispEdges"/>
<g font-family="'Liberation Sans', sans-serif" font-size="14" fill="#000" stroke="#000" stroke-width="0.3">
<rect x="870.5" y="143.5" width="10" height="10" fill="#5B83B9" stroke="#000" stroke-width="1" shape-rendering="crispEdges"/>
<text x="885.6" y="153.6" textLength="144.2" lengthAdjust="spacingAndGlyphs">Administração Pública</text>
<rect x="870.5" y="169.5" width="10" height="10" fill="#C0504D" stroke="#000" stroke-width="1" shape-rendering="crispEdges"/>
<text x="885.6" y="179.6" textLength="80.4" lengthAdjust="spacingAndGlyphs">Arquivologia</text>
<rect x="870.5" y="195.5" width="10" height="10" fill="#9BBB59" stroke="#000" stroke-width="1" shape-rendering="crispEdges"/>
<text x="885.6" y="205.6" textLength="88.8" lengthAdjust="spacingAndGlyphs">Artes Cênicas</text>
<rect x="870.5" y="221.5" width="10" height="10" fill="#8064A2" stroke="#000" stroke-width="1" shape-rendering="crispEdges"/>
<text x="885.6" y="231.6" textLength="104.5" lengthAdjust="spacingAndGlyphs">Biblioteconomia</text>
<rect x="870.5" y="247.5" width="10" height="10" fill="#4BACC6" stroke="#000" stroke-width="1" shape-rendering="crispEdges"/>
<text x="885.6" y="257.6" textLength="79.5" lengthAdjust="spacingAndGlyphs">Biomedicina</text>
<rect x="870.5" y="273.5" width="10" height="10" fill="#F79646" stroke="#000" stroke-width="1" shape-rendering="crispEdges"/>
<text x="885.6" y="283.6" textLength="132.2" lengthAdjust="spacingAndGlyphs">Ciências Ambientais</text>
<rect x="870.5" y="299.5" width="10" height="10" fill="#3A5677" stroke="#000" stroke-width="1" shape-rendering="crispEdges"/>
<text x="885.6" y="309.6" textLength="125.9" lengthAdjust="spacingAndGlyphs">Ciências Biológicas</text>
<rect x="870.5" y="325.5" width="10" height="10" fill="#803532" stroke="#000" stroke-width="1" shape-rendering="crispEdges"/>
<text x="885.6" y="335.6" textLength="136.7" lengthAdjust="spacingAndGlyphs">Ciências da Natureza</text>
<rect x="870.5" y="351.5" width="10" height="10" fill="#677D3B" stroke="#000" stroke-width="1" shape-rendering="crispEdges"/>
<text x="885.6" y="361.6" textLength="113.9" lengthAdjust="spacingAndGlyphs">Ciências Políticas</text>
<rect x="870.5" y="377.5" width="10" height="10" fill="#554369" stroke="#000" stroke-width="1" shape-rendering="crispEdges"/>
<text x="885.6" y="387.6" textLength="43.9" lengthAdjust="spacingAndGlyphs">Direito</text>
<rect x="870.5" y="403.5" width="10" height="10" fill="#31717F" stroke="#000" stroke-width="1" shape-rendering="crispEdges"/>
<text x="885.6" y="413.6" textLength="82.4" lengthAdjust="spacingAndGlyphs">Enfermagem</text>
<rect x="870.5" y="429.5" width="10" height="10" fill="#B66A33" stroke="#000" stroke-width="1" shape-rendering="crispEdges"/>
<text x="885.6" y="439.6" textLength="157.9" lengthAdjust="spacingAndGlyphs">Engenharia de Produção</text>
<rect x="870.5" y="455.5" width="10" height="10" fill="#B3C6E2" stroke="#000" stroke-width="1" shape-rendering="crispEdges"/>
<text x="885.6" y="465.6" textLength="54.2" lengthAdjust="spacingAndGlyphs">Filosofia</text>
<rect x="870.5" y="481.5" width="10" height="10" fill="#E6AAA9" stroke="#000" stroke-width="1" shape-rendering="crispEdges"/>
<text x="885.6" y="491.6" textLength="50.5" lengthAdjust="spacingAndGlyphs">História</text>
<rect x="870.5" y="507.5" width="10" height="10" fill="#D5E3B9" stroke="#000" stroke-width="1" shape-rendering="crispEdges"/>
<text x="885.6" y="517.6" textLength="59.4" lengthAdjust="spacingAndGlyphs">Medicina</text>
<rect x="870.5" y="533.5" width="10" height="10" fill="#CABDDB" stroke="#000" stroke-width="1" shape-rendering="crispEdges"/>
<text x="885.6" y="543.6" textLength="75.7" lengthAdjust="spacingAndGlyphs">Museologia</text>
<rect x="870.5" y="559.5" width="10" height="10" fill="#5F8AC5" stroke="#000" stroke-width="1" shape-rendering="crispEdges"/>
<text x="885.6" y="569.6" textLength="46.5" lengthAdjust="spacingAndGlyphs">Música</text>
<rect x="870.5" y="585.5" width="10" height="10" fill="#C9524F" stroke="#000" stroke-width="1" shape-rendering="crispEdges"/>
<text x="885.6" y="595.6" textLength="56.3" lengthAdjust="spacingAndGlyphs">Nutrição</text>
<rect x="870.5" y="611.5" width="10" height="10" fill="#9DBE5B" stroke="#000" stroke-width="1" shape-rendering="crispEdges"/>
<text x="885.6" y="621.6" textLength="67.5" lengthAdjust="spacingAndGlyphs">Pedagogia</text>
<rect x="870.5" y="637.5" width="10" height="10" fill="#8266A5" stroke="#000" stroke-width="1" shape-rendering="crispEdges"/>
<text x="885.6" y="647.6" textLength="52.7" lengthAdjust="spacingAndGlyphs">Turismo</text>
</g>
</svg>
</body></html>
